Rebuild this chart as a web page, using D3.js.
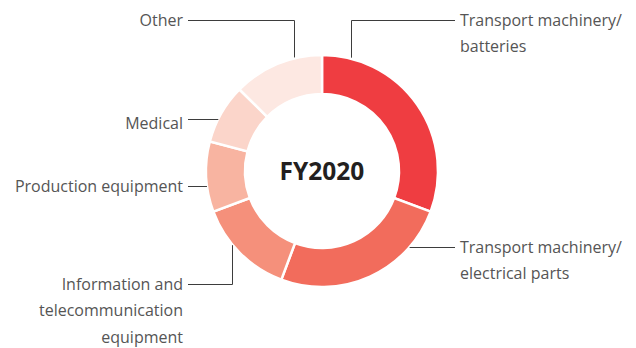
<!DOCTYPE html>
<html>
<head>
<meta charset="utf-8">
<script src="https://cdn.jsdelivr.net/npm/d3@7"></script>
<style>
  html, body { margin: 0; padding: 0; background: #fff; }
  svg { display: block; }
</style>
</head>
<body>
<svg id="chart" width="636" height="348"></svg>
<script>
// Sales composition by application, FY2020 (share, %)
const categories = [
  "Transport machinery/batteries",
  "Transport machinery/electrical parts",
  "Information and telecommunication equipment",
  "Production equipment",
  "Medical",
  "Other"
];
const shares = [30.7, 25.0, 13.6, 9.8, 8.3, 12.6];
const colors = ["#EF3D41", "#F26C5C", "#F5907B", "#F8B4A1", "#FBD5CA", "#FDE8E2"];
const centerTitle = "FY2020";

// Label lines as drawn (split for wrapping)
const labelLines = [
  ["Transport machinery/", "batteries"],
  ["Transport machinery/", "electrical parts"],
  ["Information and", "telecommunication", "equipment"],
  ["Production equipment"],
  ["Medical"],
  ["Other"]
];

const svg = d3.select("#chart");
const cx = 322, cy = 171;
const outerR = 116, innerR = 77;

const g = svg.append("g").attr("transform", `translate(${cx},${cy})`);

const pie = d3.pie().sort(null).value(d => d)(shares);
const arc = d3.arc().innerRadius(innerR).outerRadius(outerR);

g.selectAll("path.slice")
  .data(pie)
  .join("path")
  .attr("class", "slice")
  .attr("d", arc)
  .attr("fill", (d, i) => colors[i])
  .attr("stroke", "#fff")
  .attr("stroke-width", 2.5)
  .attr("stroke-linejoin", "miter");

g.append("text")
  .attr("text-anchor", "middle")
  .attr("dy", "0.36em")
  .attr("font-family", "'Open Sans', 'Noto Sans', sans-serif")
  .attr("font-weight", 700)
  .attr("font-size", 24.5)
  .attr("fill", "#231F20")
  .text(centerTitle);

const lineColor = "#3d3d3d";
const textColor = "#555555";
const leftX = 183 - cx, rightX = 460 - cx;

const leaders = svg.append("g").attr("transform", `translate(${cx},${cy})`)
  .attr("fill", "none").attr("stroke", lineColor).attr("stroke-width", 1);

const labels = svg.append("g").attr("transform", `translate(${cx},${cy})`)
  .attr("font-family", "'Open Sans', 'Noto Sans', sans-serif")
  .attr("font-size", 16)
  .attr("fill", textColor);

// Leader layout: elbow lines drop vertically to the ring at a given x offset,
// straight lines run horizontally into the ring at the label's y;
// textShift nudges a label's text relative to its line
const layout = [
  { x: 29,  y: 20 - cy,  side: "right", elbow: true,  textShift: 0 },
  { x: null, y: 247 - cy, side: "right", elbow: false, textShift: 0 },
  { x: -90, y: 284 - cy, side: "left",  elbow: true,  textShift: 0 },
  { x: null, y: 186 - cy, side: "left",  elbow: false, textShift: 0 },
  { x: null, y: 119 - cy, side: "left",  elbow: false, textShift: 4 },
  { x: -28, y: 20 - cy,  side: "left",  elbow: true,  textShift: 0 }
];

layout.forEach((L, i) => {
  const lineH = 26.5;
  const endX = L.side === "right" ? rightX - 5 : leftX + 5;
  let path;
  if (L.elbow) {
    // point on the outer ring with this x, on the side facing the label
    const yr = Math.sqrt(outerR * outerR - L.x * L.x) * (L.y < 0 ? -1 : 1);
    path = `M${L.x + 0.5},${yr - (L.y < 0 ? 1 : -1)}V${L.y + 0.5}H${endX}`;
  } else {
    const dx = Math.sqrt(outerR * outerR - L.y * L.y) * (L.side === "right" ? 1 : -1);
    path = `M${dx},${L.y + 0.5}H${endX}`;
  }
  leaders.append("path").attr("d", path);

  const t = labels.append("text")
    .attr("text-anchor", L.side === "right" ? "start" : "end");
  labelLines[i].forEach((line, k) => {
    t.append("tspan")
      .attr("x", L.side === "right" ? rightX : leftX)
      .attr("y", L.y + L.textShift + k * lineH)
      .attr("dy", "0.35em")
      .text(line);
  });
});
</script>
</body>
</html>
